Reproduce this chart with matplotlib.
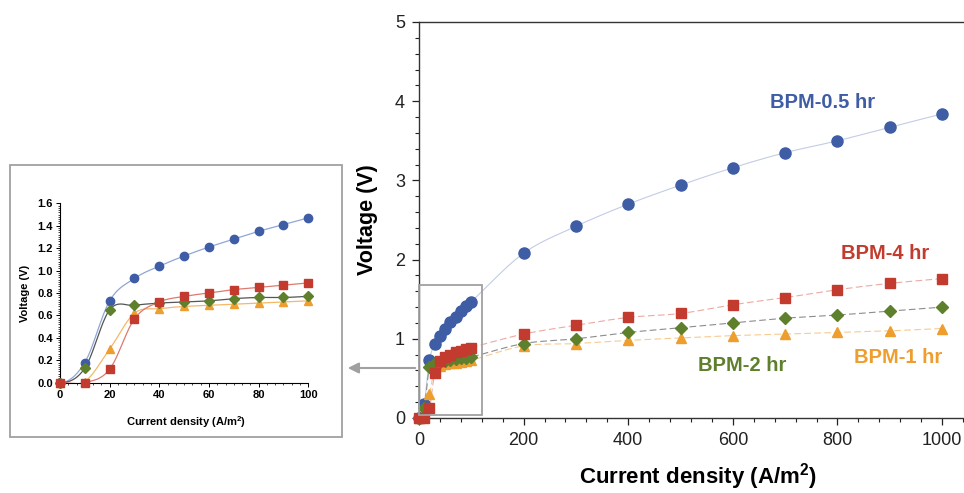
import numpy as np
import matplotlib
matplotlib.use("Agg")
import matplotlib.pyplot as plt
from matplotlib.ticker import MultipleLocator, AutoMinorLocator
from matplotlib.patches import Rectangle

plt.rcParams["font.family"] = ["Liberation Sans", "DejaVu Sans"]
plt.rcParams["mathtext.fontset"] = "custom"
plt.rcParams["mathtext.rm"] = "Liberation Sans"
plt.rcParams["mathtext.bf"] = "Liberation Sans:bold"

# ── data ──
x_low = [0, 10, 20, 30, 40, 50, 60, 70, 80, 90, 100]
x_high = [200, 300, 400, 500, 600, 700, 800, 900, 1000]

v05_low = [0, 0.18, 0.73, 0.93, 1.04, 1.13, 1.21, 1.28, 1.35, 1.41, 1.47]
v05_high = [2.08, 2.42, 2.70, 2.94, 3.16, 3.35, 3.50, 3.67, 3.84]
v4_low = [0, 0, 0.12, 0.57, 0.72, 0.77, 0.80, 0.83, 0.85, 0.87, 0.89]
v4_high = [1.06, 1.17, 1.27, 1.32, 1.43, 1.52, 1.62, 1.70, 1.76]
v2_low = [0, 0.13, 0.65, 0.69, 0.71, 0.72, 0.73, 0.75, 0.76, 0.76, 0.77]
v2_high = [0.94, 1.00, 1.08, 1.14, 1.20, 1.26, 1.30, 1.35, 1.40]
v1_low = [0, 0.01, 0.30, 0.62, 0.66, 0.68, 0.69, 0.70, 0.71, 0.72, 0.73]
v1_high = [0.91, 0.94, 0.98, 1.01, 1.04, 1.06, 1.08, 1.10, 1.13]

C_BLUE, C_RED, C_GREEN, C_ORANGE = "#3E5DA5", "#C23B2E", "#5E7F2C", "#EE9E2E"


def smooth(x, y, n=20):
    """Hermite curve through the points, like Excel's smoothed line."""
    x = np.asarray(x, float); y = np.asarray(y, float)
    m = np.zeros_like(y)
    m[1:-1] = (y[2:] - y[:-2]) / (x[2:] - x[:-2])
    m[-1] = (y[-1] - y[-2]) / (x[-1] - x[-2])
    xs, ys = [], []
    for i in range(len(x) - 1):
        h = x[i + 1] - x[i]
        t = np.linspace(0, 1, n, endpoint=False)
        h00 = 2*t**3 - 3*t**2 + 1; h10 = t**3 - 2*t**2 + t
        h01 = -2*t**3 + 3*t**2; h11 = t**3 - t**2
        xs.append(x[i] + t*h)
        ys.append(h00*y[i] + h10*h*m[i] + h01*y[i+1] + h11*h*m[i+1])
    xs.append([x[-1]]); ys.append([y[-1]])
    return np.concatenate(xs), np.concatenate(ys)


series = [
    # low, high, colour, marker, main ms, inset ms, main line colour, main ls, inset line colour
    (v05_low, v05_high, C_BLUE, "o", 8, 6, "#C3CCE6", "-", "#8FA6D6"),
    (v1_low, v1_high, C_ORANGE, "^", 7.5, 5.5, "#F6CB92", (0, (6, 3)), "#F4B868"),
    (v2_low, v2_high, C_GREEN, "D", 6.5, 5, "#8C8C8C", (0, (6, 3)), "#555555"),
    (v4_low, v4_high, C_RED, "s", 7, 5.2, "#EDA9A2", (0, (6, 3)), "#DD7A70"),
]

fig = plt.figure(figsize=(9.64, 4.93), dpi=100)

# ── main plot ──
ax = fig.add_axes([419/964, 1 - 418/493, 545/964, 396/493])
for lo, hi, c, mk, ms, _, lc, ls, _ in series:
    xx = x_low + x_high; yy = lo + hi
    sx, sy = smooth(xx, yy)
    ax.plot(sx, sy, color=lc, lw=0.8, ls=ls, zorder=2)
    ax.plot(xx, yy, ls="none", marker=mk, ms=ms, color=c, mec=c,
            clip_on=False, zorder=3)

ax.set_xlim(0, 1042)
ax.set_ylim(0, 5)
ax.xaxis.set_major_locator(MultipleLocator(200))
ax.xaxis.set_minor_locator(MultipleLocator(40))
ax.yaxis.set_major_locator(MultipleLocator(1))
ax.yaxis.set_minor_locator(MultipleLocator(0.2))
ax.tick_params(which="major", direction="out", length=5, width=0.9, labelsize=13,
               colors="#222222", pad=5)
ax.tick_params(which="minor", direction="out", length=3, width=0.8, colors="#222222")
ax.spines["right"].set_visible(False)
for s in ["left", "bottom", "top"]:
    ax.spines[s].set_color("#333333")
    ax.spines[s].set_linewidth(1.0)
ax.set_facecolor("none")

lab_kw = dict(fontsize=14.5, fontweight="bold", ha="center", va="center")
ax.text(772, 3.98, "BPM-0.5 hr", color=C_BLUE, **lab_kw)
ax.text(892, 2.08, "BPM-4 hr", color=C_RED, **lab_kw)
ax.text(617, 0.66, "BPM-2 hr", color=C_GREEN, **lab_kw)
ax.text(917, 0.76, "BPM-1 hr", color=C_ORANGE, **lab_kw)

ax.add_patch(Rectangle((0, 0.04), 120, 1.64, fill=False, ec="#A0A0A0", lw=1.3,
                       clip_on=False, zorder=4))

fig.text(367/964, 1 - 220/493, "Voltage (V)", rotation=90, fontsize=15.5,
         fontweight="bold", ha="center", va="center")
fig.text(698/964, 1 - 477/493, r"Current density (A/m$^{\mathbf{2}}$)", fontsize=16,
         fontweight="bold", ha="center", va="center")

# ── inset ──
fig.patches.append(Rectangle((10/964, 1 - 437/493), 332/964, 272/493, fill=False,
                             ec="#A0A0A0", lw=1.3, transform=fig.transFigure))
axi = fig.add_axes([60/964, 1 - 382.7/493, 248.3/964, 179.4/493])
for lo, hi, c, mk, _, ims, lc, ls, ilc in series:
    sx, sy = smooth(x_low, lo)
    axi.plot(sx, sy, color=ilc, lw=0.9, zorder=2)
    axi.plot(x_low, lo, ls="none", marker=mk, ms=ims, color=c, mec=c,
             clip_on=False, zorder=3)
axi.set_xlim(0, 100)
axi.set_ylim(0, 1.6)
axi.xaxis.set_major_locator(MultipleLocator(20))
axi.xaxis.set_minor_locator(AutoMinorLocator(6))
axi.yaxis.set_major_locator(MultipleLocator(0.2))
axi.yaxis.set_minor_locator(MultipleLocator(0.02))
axi.yaxis.set_major_formatter(plt.FormatStrFormatter("%.1f"))
axi.tick_params(which="major", direction="out", length=3, width=0.7, labelsize=8, pad=2)
axi.tick_params(which="minor", direction="out", length=1.5, width=0.5)
for lab in axi.get_xticklabels() + axi.get_yticklabels():
    lab.set_fontweight("bold")
axi.spines["right"].set_visible(False)
axi.spines["top"].set_visible(False)

fig.text(25/964, 1 - 293/493, "Voltage (V)", rotation=90, fontsize=8,
         fontweight="bold", ha="center", va="center")
fig.text(186/964, 1 - 422/493, r"Current density (A/m$^{\mathbf{2}}$)", fontsize=8,
         fontweight="bold", ha="center", va="center")

axi.annotate("", xy=(345, 493 - 368), xytext=(418, 493 - 368),
             xycoords="figure pixels", textcoords="figure pixels",
             arrowprops=dict(arrowstyle="-|>", color="#A0A0A0", lw=1.5,
                             mutation_scale=16))

fig.savefig("out.png", dpi=100)
